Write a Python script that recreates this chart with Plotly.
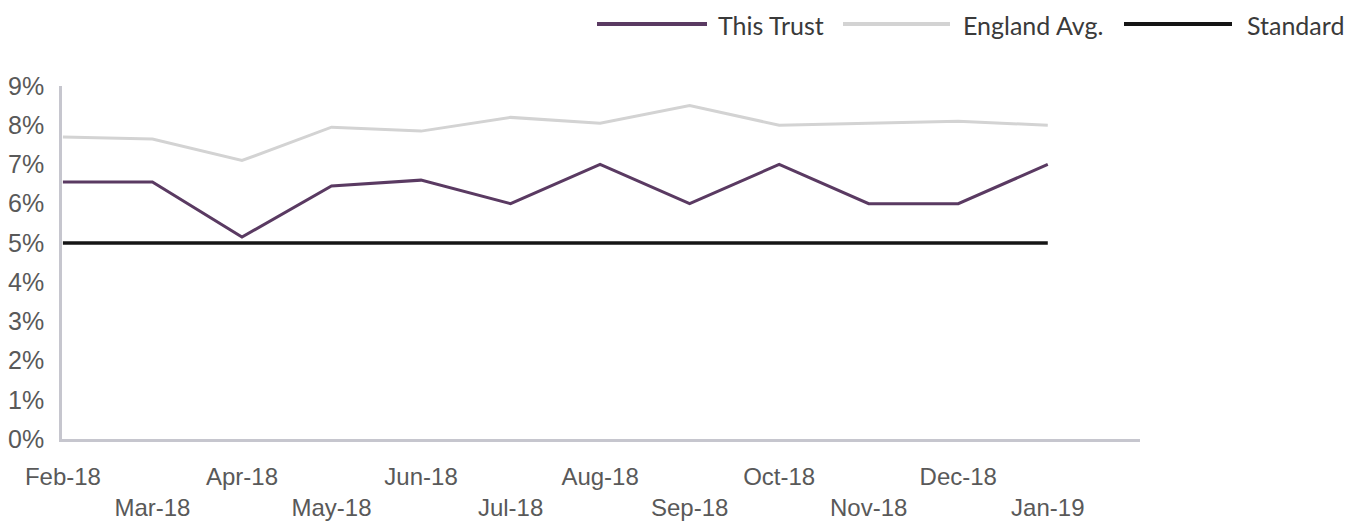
import plotly.graph_objects as go

# Monthly values (percent)
months = ["Feb-18", "Mar-18", "Apr-18", "May-18", "Jun-18", "Jul-18",
          "Aug-18", "Sep-18", "Oct-18", "Nov-18", "Dec-18", "Jan-19"]
this_trust = [6.55, 6.55, 5.15, 6.45, 6.6, 6.0, 7.0, 6.0, 7.0, 6.0, 6.0, 7.0]
england_avg = [7.7, 7.65, 7.1, 7.95, 7.85, 8.2, 8.05, 8.5, 8.0, 8.05, 8.1, 8.0]
standard = [5.0] * 12
y_ticks = [0, 1, 2, 3, 4, 5, 6, 7, 8, 9]

TRUST_COLOR = "#5a3a62"
ENGLAND_COLOR = "#d3d3d3"
STANDARD_COLOR = "#151515"

W, H = 1355, 524
L, R, T, B = 62, 1140, 86, 439  # plot area in pixels

idx = list(range(len(months)))
# Staggered month labels: every other label drops to a second row
tick_text = [m if i % 2 == 0 else "<br>" + m for i, m in enumerate(months)]

fig = go.Figure()
fig.add_trace(go.Scatter(x=idx, y=england_avg, mode="lines", name="England Avg.",
                         line=dict(color=ENGLAND_COLOR, width=3)))
fig.add_trace(go.Scatter(x=idx, y=standard, mode="lines", name="Standard",
                         line=dict(color=STANDARD_COLOR, width=3.5)))
fig.add_trace(go.Scatter(x=idx, y=this_trust, mode="lines", name="This Trust",
                         line=dict(color=TRUST_COLOR, width=3)))

def px_x(p):
    return (p - L) / (R - L)

def px_y(p):
    return (B - p) / (B - T)

# Hand-built legend with long line samples
legend_items = [
    ("This Trust", TRUST_COLOR, 597, 707, 716),
    ("England Avg.", ENGLAND_COLOR, 843, 950, 961),
    ("Standard", STANDARD_COLOR, 1124, 1232, 1245),
]
shapes = []
annotations = []
for label, color, x0, x1, tx in legend_items:
    shapes.append(dict(type="line", xref="paper", yref="paper",
                       x0=px_x(x0), x1=px_x(x1), y0=px_y(24), y1=px_y(24),
                       line=dict(color=color, width=4)))
    annotations.append(dict(text=label, xref="paper", yref="paper",
                            x=px_x(tx), y=px_y(25), xanchor="left", yanchor="middle",
                            showarrow=False,
                            font=dict(family="Lato, Open Sans, sans-serif", size=25,
                                      color="#3a3a3a")))

fig.update_layout(
    width=W, height=H,
    margin=dict(l=L, r=W - R, t=T, b=H - B, pad=0, autoexpand=False),
    paper_bgcolor="white", plot_bgcolor="white",
    showlegend=False,
    shapes=shapes,
    annotations=annotations,
    xaxis=dict(
        range=[-0.01, 12.03],
        tickmode="array", tickvals=idx, ticktext=tick_text,
        showgrid=False, zeroline=False, automargin=False,
        showline=True, linecolor="#c6c6ce", linewidth=2.5,
        ticks="", ticklabelstandoff=14,
        tickfont=dict(family="Liberation Sans, Arial, sans-serif", size=24, color="#595959"),
        fixedrange=True,
    ),
    yaxis=dict(
        range=[0, 9],
        tickmode="array", tickvals=y_ticks, ticktext=[f"{v}%" for v in y_ticks],
        showgrid=False, zeroline=False, automargin=False,
        showline=True, linecolor="#c6c6ce", linewidth=2.5,
        ticks="", ticklabelstandoff=10,
        tickfont=dict(family="Liberation Sans, Arial, sans-serif", size=25, color="#595959"),
        fixedrange=True,
    ),
)

fig.write_html("out.html", config={"displayModeBar": False})
